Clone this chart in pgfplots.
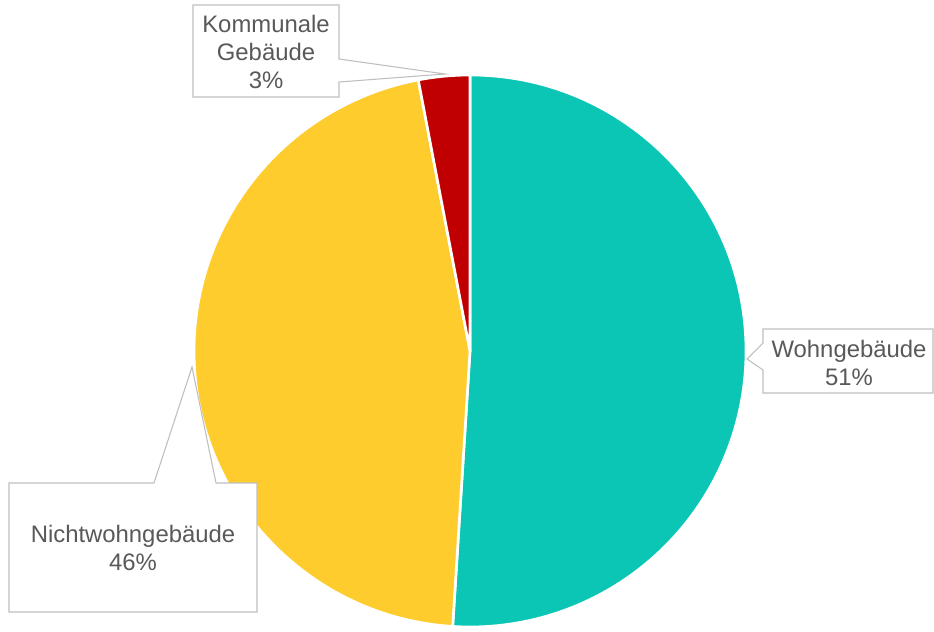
\documentclass[border=0pt]{standalone}
\usepackage{pgfplots}
\pgfplotsset{compat=1.18}
\usepackage{pgfplotstable}
\usepackage{fontspec}
\setmainfont{Liberation Sans}

\definecolor{cWohn}{RGB}{11,197,181}
\definecolor{cNicht}{RGB}{255,204,46}
\definecolor{cKomm}{RGB}{192,0,0}
\definecolor{lbl}{RGB}{89,89,89}
\definecolor{boxline}{RGB}{191,191,191}

\tikzset{lab/.style={font=\fontsize{17.9}{20.8}\selectfont, text=lbl, align=center, inner sep=0pt}}

% shares in percent
\pgfplotstableread{
Kategorie Wert
Wohngebaeude 51
Nichtwohngebaeude 46
Kommunal 3
}\piedata

\begin{document}
\begin{tikzpicture}
\pgfplotstablegetelem{0}{Wert}\of\piedata \pgfmathsetmacro{\vA}{\pgfplotsretval}
\pgfplotstablegetelem{1}{Wert}\of\piedata \pgfmathsetmacro{\vB}{\pgfplotsretval}
\pgfplotstablegetelem{2}{Wert}\of\piedata \pgfmathsetmacro{\vC}{\pgfplotsretval}
\pgfmathsetmacro{\tot}{\vA+\vB+\vC}
% angles, clockwise from the top
\pgfmathsetmacro{\aA}{90}
\pgfmathsetmacro{\aB}{\aA-360*(\vA/\tot)}
\pgfmathsetmacro{\aC}{\aB-360*(\vB/\tot)}
\pgfmathsetmacro{\aD}{\aC-360*(\vC/\tot)}
\def\R{207pt}
\begin{axis}[
    hide axis, scale only axis, clip=false,
    width=700.5pt, height=471pt,
    xmin=0, xmax=934, ymin=0, ymax=628,
]
\path (axis cs:0,0) rectangle (axis cs:934,628);

% slices
\filldraw[fill=cWohn, draw=white, line width=2pt, line join=round]
  (axis cs:470,277) -- ++(\aA:\R) arc[start angle=\aA, end angle=\aB, radius=\R] -- cycle;
\filldraw[fill=cNicht, draw=white, line width=2pt, line join=round]
  (axis cs:470,277) -- ++(\aB:\R) arc[start angle=\aB, end angle=\aC, radius=\R] -- cycle;
\filldraw[fill=cKomm, draw=white, line width=2pt, line join=round]
  (axis cs:470,277) -- ++(\aC:\R) arc[start angle=\aC, end angle=\aD, radius=\R] -- cycle;

% callouts
\filldraw[fill=white, draw=boxline, line width=0.8pt]
  (axis cs:193,623) -- (axis cs:339,623) -- (axis cs:339,569) -- (axis cs:445,554)
  -- (axis cs:339,546) -- (axis cs:339,531) -- (axis cs:193,531) -- cycle;
\node[lab] at (axis cs:266,576) {Kommunale\\Gebäude\\3\%};

\filldraw[fill=white, draw=boxline, line width=0.8pt]
  (axis cs:763,299) -- (axis cs:933,299) -- (axis cs:933,235) -- (axis cs:763,235)
  -- (axis cs:763,258) -- (axis cs:747,269) -- (axis cs:763,285) -- cycle;
\node[lab] at (axis cs:849,265) {Wohngebäude\\51\%};

\filldraw[fill=white, draw=boxline, line width=0.8pt]
  (axis cs:9,145) -- (axis cs:154,145) -- (axis cs:192,261) -- (axis cs:216,145)
  -- (axis cs:257,145) -- (axis cs:257,16) -- (axis cs:9,16) -- cycle;
\node[lab] at (axis cs:133,80) {Nichtwohngebäude\\46\%};
\end{axis}
\end{tikzpicture}
\end{document}
